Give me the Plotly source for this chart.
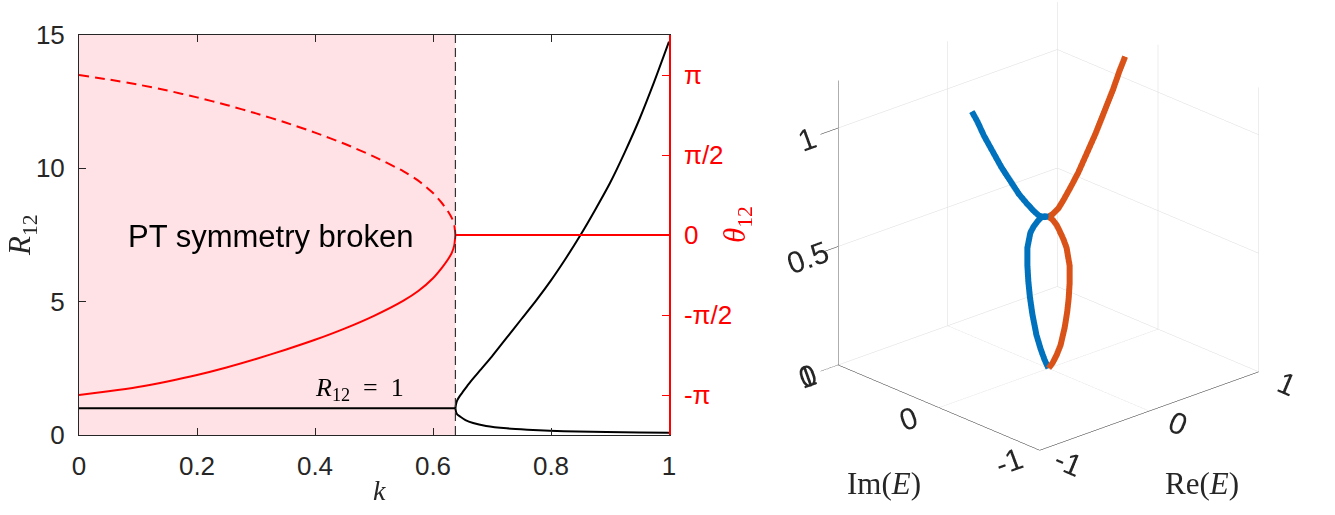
import plotly.graph_objects as go

# ---------------- data: left panel ----------------
k_c = 0.638  # exceptional point

# R12 = 1 in broken region
k_flat = [0.0, 0.638]
R_flat = [1.0, 1.0]

# R12 upper branch (k > kc)
k_Rup = [0.638, 0.639, 0.641, 0.645, 0.650, 0.660, 0.670, 0.680, 0.700, 0.725, 0.750, 0.775, 0.800, 0.825, 0.850, 0.875, 0.900, 0.925, 0.950, 0.975, 1.0]
R_up = [1.0, 1.15, 1.30, 1.45, 1.60, 1.90, 2.17, 2.43, 2.95, 3.65, 4.35, 5.05, 5.80, 6.62, 7.50, 8.45, 9.45, 10.60, 11.85, 13.25, 14.75]

# R12 lower branch (k > kc)
k_Rlo = [0.638, 0.639, 0.641, 0.646, 0.655, 0.668, 0.690, 0.725, 0.760, 0.798, 0.845, 0.894, 0.950, 1.0]
R_lo = [1.0, 0.87, 0.77, 0.69, 0.56, 0.45, 0.34, 0.25, 0.20, 0.16, 0.13, 0.11, 0.09, 0.08]

# theta12 (units of pi) in broken region: solid and dashed branches
k_th = [0.0, 0.05, 0.1, 0.15, 0.2, 0.25, 0.3, 0.35, 0.4, 0.45, 0.5, 0.55, 0.575, 0.6, 0.615, 0.625, 0.632, 0.636, 0.638]
th_solid = [-1.0, -0.977, -0.95, -0.915, -0.875, -0.828, -0.775, -0.717, -0.655, -0.585, -0.505, -0.41, -0.35, -0.27, -0.205, -0.155, -0.11, -0.065, 0.0]
th_dash = [1.0, 0.972, 0.94, 0.903, 0.86, 0.813, 0.76, 0.703, 0.64, 0.57, 0.49, 0.398, 0.34, 0.262, 0.20, 0.15, 0.105, 0.062, 0.0]
# theta12 = 0 in unbroken region
k_th0 = [0.638, 1.0]
th_zero = [0.0, 0.0]

x_ticks = [0, 0.2, 0.4, 0.6, 0.8, 1]
x_ticktext = ["0", "0.2", "0.4", "0.6", "0.8", "1"]
yR_ticks = [0, 5, 10, 15]
yth_ticks = [-1, -0.5, 0, 0.5, 1]
yth_ticktext = ["-\u03c0", "-\u03c0/2", "0", "\u03c0/2", "\u03c0"]

# ---------------- data: right panel (3D) ----------------
# broken region: Re(E)=0, Im(E)=+-a(k)
k_loop = [0.0, 0.03, 0.07, 0.12, 0.20, 0.27, 0.33, 0.40, 0.47, 0.54, 0.57, 0.60, 0.62, 0.635, 0.64]
im_loop = [0.0, 0.04, 0.08, 0.12, 0.16, 0.185, 0.20, 0.21, 0.21, 0.18, 0.15, 0.11, 0.08, 0.04, 0.0]
# unbroken region: Im(E)=0, Re(E)=+-b(k)
k_open = [0.64, 0.645, 0.66, 0.69, 0.73, 0.78, 0.85, 0.92, 1.0, 1.08, 1.15, 1.2]
re_open = [0.0, 0.04, 0.09, 0.14, 0.20, 0.27, 0.35, 0.43, 0.51, 0.59, 0.65, 0.70]

blue_re = [0.0] * len(k_loop) + [-v for v in re_open]
blue_im = im_loop + [0.0] * len(k_open)
blue_k = k_loop + k_open
orange_re = [0.0] * len(k_loop) + re_open
orange_im = [-v for v in im_loop] + [0.0] * len(k_open)
orange_k = k_loop + k_open

# ---------------- figure ----------------
W, H = 1335, 515
AX = "#262626"
RED = "#FF0000"
SANS = "Liberation Sans, Arial, Helvetica, sans-serif"
SERIF = "Liberation Serif, Times New Roman, serif"

fig = go.Figure()

# broken-region shading and EP line
fig.add_vrect(x0=0, x1=k_c, fillcolor="#FFE2E5", line_width=0, layer="below")
fig.add_vline(x=k_c, line=dict(color="#333333", width=1.2, dash="9px,5px"))

# black R12 curves
fig.add_trace(go.Scatter(x=k_flat, y=R_flat, mode="lines", line=dict(color="black", width=2), showlegend=False))
fig.add_trace(go.Scatter(x=k_Rup, y=R_up, mode="lines", line=dict(color="black", width=2, shape="spline", smoothing=0.6), showlegend=False))
fig.add_trace(go.Scatter(x=k_Rlo, y=R_lo, mode="lines", line=dict(color="black", width=2, shape="spline", smoothing=0.6), showlegend=False))

# red theta curves on right axis
fig.add_trace(go.Scatter(x=k_th, y=th_solid, yaxis="y2", mode="lines", line=dict(color=RED, width=2, shape="spline", smoothing=0.6), showlegend=False))
fig.add_trace(go.Scatter(x=k_th, y=th_dash, yaxis="y2", mode="lines", line=dict(color=RED, width=2, dash="10px,6px", shape="spline", smoothing=0.6), showlegend=False))
fig.add_trace(go.Scatter(x=k_th0, y=th_zero, yaxis="y2", mode="lines", line=dict(color=RED, width=2), showlegend=False))

# 3D curves
fig.add_trace(go.Scatter3d(x=blue_re, y=blue_im, z=blue_k, mode="lines", line=dict(color="#0072BD", width=12), showlegend=False, scene="scene"))
fig.add_trace(go.Scatter3d(x=orange_re, y=orange_im, z=orange_k, mode="lines", line=dict(color="#D95319", width=12), showlegend=False, scene="scene"))

x0d, x1d = 79 / W, 669 / W
y0d, y1d = (H - 435) / H, (H - 35) / H

tf3 = dict(size=19, color=AX, family=SANS)
ax3 = dict(showgrid=True, gridcolor="#DCDCDC", gridwidth=1, showbackground=False,
           showline=True, linecolor=AX, linewidth=1, zeroline=False, ticks="outside",
           tickfont=tf3, showspikes=False, title=dict(text=""))
ax3_floor = dict(ax3, ticklen=24, tickcolor="rgba(0,0,0,0)")
ax3_z = dict(ax3, ticklen=5, tickcolor=AX)

S_box = 1.156
S_z = 1.199
fig.update_layout(
    width=W, height=H,
    margin=dict(l=0, r=0, t=0, b=0),
    paper_bgcolor="white", plot_bgcolor="white",
    font=dict(family=SANS, size=26, color=AX),
    xaxis=dict(domain=[x0d, x1d], range=[0, 1], tickvals=x_ticks, ticktext=x_ticktext,
               showline=True, linecolor=AX, linewidth=1, mirror="ticks", ticks="inside",
               ticklen=7, tickcolor=AX, showgrid=False, zeroline=False, automargin=False,
               tickfont=dict(size=26, color=AX), ticklabelstandoff=8),
    yaxis=dict(domain=[y0d, y1d], range=[0, 15], tickvals=yR_ticks, automargin=False,
               showline=True, linecolor=AX, linewidth=1, ticks="inside", ticklen=7,
               tickcolor=AX, showgrid=False, zeroline=False,
               tickfont=dict(size=26, color=AX), ticklabelstandoff=8),
    yaxis2=dict(overlaying="y", side="right", anchor="x", range=[-1.25, 1.25], automargin=False,
                tickvals=yth_ticks, ticktext=yth_ticktext,
                showline=True, linecolor=RED, linewidth=1.5, ticks="inside", ticklen=7,
                tickcolor=RED, showgrid=False, zeroline=False,
                tickfont=dict(size=26, color=RED), ticklabelstandoff=8),
    scene=dict(
        domain=dict(x=[0.571, 1.0], y=[0.0, 1.0]),
        aspectmode="manual",
        aspectratio=dict(x=S_box, y=S_box, z=S_z),
        bgcolor="white",
        xaxis=dict(range=[-1, 1], tickvals=[-1, 0, 1], ticktext=["-1", "0", "1"], **ax3_floor),
        yaxis=dict(range=[-1, 1], tickvals=[-1, 0, 1], ticktext=["-1", "0", "1"], **ax3_floor),
        zaxis=dict(range=[0, 1.2], tickvals=[0, 0.5, 1], ticktext=["0", "0.5", "1"], **ax3_z),
        camera=dict(eye=dict(x=-0.908, y=-0.987, z=0.435),
                    up=dict(x=0, y=0, z=1), center=dict(x=0, y=0, z=-0.132),
                    projection=dict(type="orthographic")),
    ),
)

ann = [
    dict(text="PT symmetry broken", x=0.325, y=7.46, xref="x", yref="y", showarrow=False,
         font=dict(family=SANS, size=31, color="black"), xanchor="center", yanchor="middle"),
    dict(text="<i>R</i><sub>12</sub>&#8194;=&#8194;1", x=0.476, y=1.72, xref="x", yref="y", showarrow=False,
         font=dict(family=SERIF, size=26, color="black"), xanchor="center", yanchor="middle"),
    dict(text="<i>k</i>", x=380 / W, y=(H - 490) / H, xref="paper", yref="paper", showarrow=False,
         font=dict(family=SERIF, size=28, color=AX), xanchor="center", yanchor="middle"),
    dict(text="<i>R</i><sub>12</sub>", x=22 / W, y=(H - 235) / H, xref="paper", yref="paper", showarrow=False,
         textangle=-90, font=dict(family=SERIF, size=31, color=AX), xanchor="center", yanchor="middle"),
    dict(text="<i>\u03b8</i><sub>12</sub>", x=737 / W, y=(H - 225) / H, xref="paper", yref="paper", showarrow=False,
         textangle=-90, font=dict(family=SERIF, size=31, color=RED), xanchor="center", yanchor="middle"),
    dict(text="Im(<i>E</i>)", x=884 / W, y=(H - 483) / H, xref="paper", yref="paper", showarrow=False,
         font=dict(family=SERIF, size=31, color=AX), xanchor="center", yanchor="middle"),
    dict(text="Re(<i>E</i>)", x=1202 / W, y=(H - 483) / H, xref="paper", yref="paper", showarrow=False,
         font=dict(family=SERIF, size=31, color=AX), xanchor="center", yanchor="middle"),
]
fig.update_layout(annotations=ann)

fig.write_html("out.html")
